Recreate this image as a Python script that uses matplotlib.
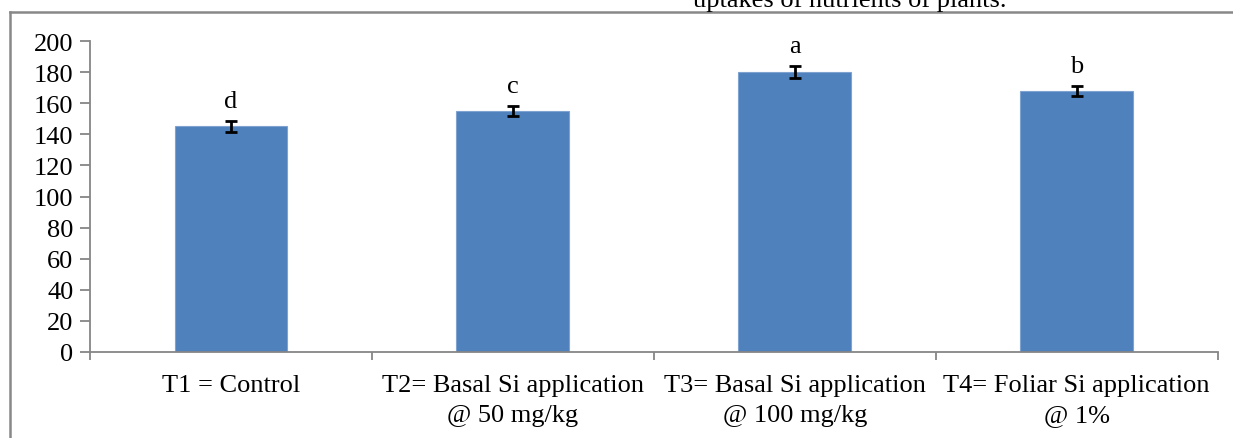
import matplotlib.pyplot as plt
from matplotlib.lines import Line2D

# data
treatments = ['T1 = Control', 'T2= Basal Si application\n@ 50 mg/kg',
              'T3= Basal Si application\n@ 100 mg/kg', 'T4= Foliar Si application\n@ 1%']
values = [145.3, 155.1, 180.4, 168.0]
errors = [3.5, 3.5, 4.0, 3.5]
letters = ['d', 'c', 'a', 'b']

plt.rcParams['font.family'] = ['Liberation Serif', 'DejaVu Serif']
plt.rcParams['font.size'] = 19

fig = plt.figure(figsize=(12.33, 4.39), dpi=100)
ax = fig.add_axes([0.073, 0.1966, 0.9145, 0.707])

x = range(len(values))
ax.bar(x, values, width=0.4, color='#4F81BD', edgecolor='#7FA3D0', linewidth=0.8, zorder=2)
ax.errorbar(x, values, yerr=errors, fmt='none', ecolor='black', elinewidth=2,
            capsize=4.3, capthick=2, zorder=3)
for i, (v, e, l) in enumerate(zip(values, errors, letters)):
    ax.annotate(l, (i, v + e), xytext=(0, 6), textcoords='offset points',
                ha='center', va='bottom')

ax.set_xlim(-0.5, len(values) - 0.5)
ax.set_ylim(0, 200)
ax.set_yticks(range(0, 201, 20))

# category boundary ticks, labels centred under bars
ax.set_xticks([i - 0.5 for i in range(len(values) + 1)])
ax.set_xticklabels([])
ax.set_xticks(list(x), minor=True)
ax.set_xticklabels(treatments, minor=True, linespacing=1.45)
ax.tick_params(axis='x', which='minor', length=0, pad=16)
ax.tick_params(axis='x', which='major', length=6, color='#868686', width=1.3)
ax.tick_params(axis='y', length=7, color='#868686', width=1.3, pad=5)

for s in ['top', 'right']:
    ax.spines[s].set_visible(False)
for s in ['left', 'bottom']:
    ax.spines[s].set_color('#868686')
    ax.spines[s].set_linewidth(1.3)

# outer chart frame (partially visible) and cut-off caption
fig.add_artist(Line2D([10 / 1233, 10 / 1233], [0, 1 - 13 / 439], color='#888888', lw=1.8))
fig.add_artist(Line2D([10 / 1233, 1], [1 - 13 / 439, 1 - 13 / 439], color='#888888', lw=1.8))
fig.text(850 / 1233, 1 - 7 / 439, 'uptakes of nutrients of plants.', ha='center',
         va='baseline')

fig.savefig('out.png', dpi=100)
